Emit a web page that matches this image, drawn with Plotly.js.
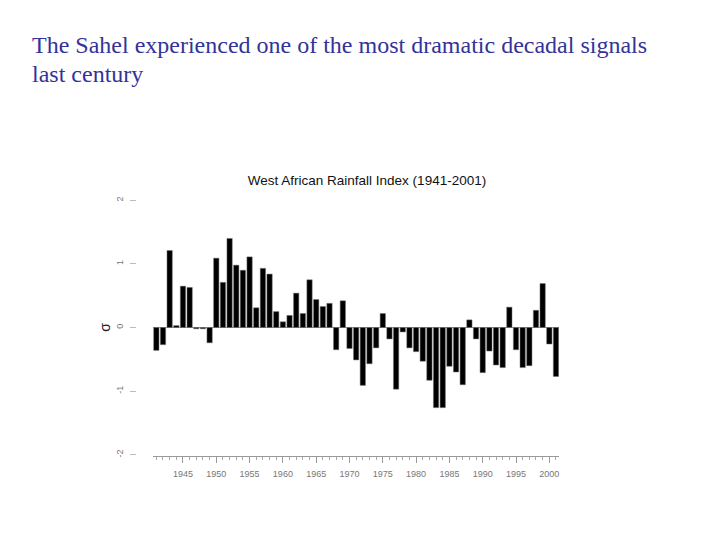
<!DOCTYPE html>
<html>
<head>
<meta charset="utf-8">
<script src="https://cdn.plot.ly/plotly-3.0.1.min.js"></script>
<style>html,body{margin:0;padding:0;background:#fff;}#chart{width:720px;height:540px;}</style>
</head>
<body>
<div id="chart"></div>
<script>
// West African Rainfall Index (standardised anomalies, sigma), 1941-2001
var years = [];
for (var yr = 1941; yr <= 2001; yr++) years.push(yr);
var rainfallIndex = [
  -0.36, -0.27, 1.21, 0.03, 0.65, 0.63, -0.02, -0.02, -0.24, 1.09,
   0.71, 1.40, 0.98, 0.90, 1.11, 0.31, 0.93, 0.84, 0.25, 0.09,
   0.19, 0.54, 0.22, 0.75, 0.44, 0.33, 0.38, -0.35, 0.42, -0.33,
  -0.51, -0.91, -0.57, -0.32, 0.22, -0.18, -0.97, -0.07, -0.32, -0.38,
  -0.53, -0.83, -1.26, -1.26, -0.61, -0.70, -0.90, 0.12, -0.18, -0.71,
  -0.37, -0.59, -0.63, 0.32, -0.35, -0.63, -0.60, 0.27, 0.69, -0.26,
  -0.77
];
var yTicks = [-2, -1, 0, 1, 2];
var slideTitleLines = ["The Sahel experienced one of the most dramatic decadal signals", "last century"];
var chartTitle = "West African Rainfall Index (1941-2001)";

var trace = {
  type: 'bar',
  x: years,
  y: rainfallIndex,
  marker: {color: '#000000', line: {color: '#777777', width: 0.5}},
  hoverinfo: 'x+y'
};

var plotTop = 198.5, plotBottom = 456.1, plotH = plotBottom - plotTop;
function py(px) { return (plotBottom - px) / plotH; }

var layout = {
  width: 720, height: 540,
  margin: {l: 0, r: 0, t: plotTop, b: 540 - plotBottom, pad: 0},
  paper_bgcolor: '#ffffff', plot_bgcolor: '#ffffff',
  showlegend: false,
  bargap: 0.2,
  title: {
    text: chartTitle,
    x: 367 / 720, xanchor: 'center', xref: 'container',
    y: 1 - 180 / 540, yanchor: 'middle', yref: 'container',
    font: {family: 'Liberation Sans, Arial, sans-serif', size: 13.5, color: '#111111'}
  },
  xaxis: {
    domain: [153 / 720, 559.3 / 720],
    range: [1940.5, 2001.5],
    showgrid: false, zeroline: false,
    showline: true, linecolor: '#999999', linewidth: 1,
    ticks: 'outside', ticklen: 6, tickcolor: '#999999', tickwidth: 1,
    tick0: 1945, dtick: 5,
    ticklabelstandoff: 3,
    minor: {dtick: 1, ticks: 'outside', ticklen: 3, tickcolor: '#aaaaaa', showgrid: false},
    tickfont: {family: 'Liberation Sans, Arial, sans-serif', size: 9, color: '#777777'},
    fixedrange: true
  },
  yaxis: {
    range: [-2.02, 2.02],
    anchor: 'free', position: 136 / 720,
    showline: false, showgrid: false,
    zeroline: true, zerolinecolor: '#999999', zerolinewidth: 1,
    tickvals: yTicks, ticktext: yTicks.map(String),
    ticks: 'outside', ticklen: 6, tickcolor: '#bbbbbb', tickwidth: 1,
    tickangle: -90,
    ticklabelstandoff: 3,
    tickfont: {family: 'Liberation Sans, Arial, sans-serif', size: 9, color: '#777777'},
    title: {text: 'σ', standoff: 0, font: {family: 'Liberation Sans, Arial, sans-serif', size: 14, color: '#222222'}},
    fixedrange: true
  },
  annotations: [
    {text: slideTitleLines[0], xref: 'paper', yref: 'paper', x: 30 / 720, y: py(44), xanchor: 'left', yanchor: 'middle', showarrow: false,
     font: {family: 'Liberation Serif, Times New Roman, serif', size: 24, color: '#333399'}},
    {text: slideTitleLines[1], xref: 'paper', yref: 'paper', x: 30 / 720, y: py(73), xanchor: 'left', yanchor: 'middle', showarrow: false,
     font: {family: 'Liberation Serif, Times New Roman, serif', size: 24, color: '#333399'}}
  ]
};

Plotly.newPlot('chart', [trace], layout, {displayModeBar: false, staticPlot: true});
</script>
</body>
</html>
